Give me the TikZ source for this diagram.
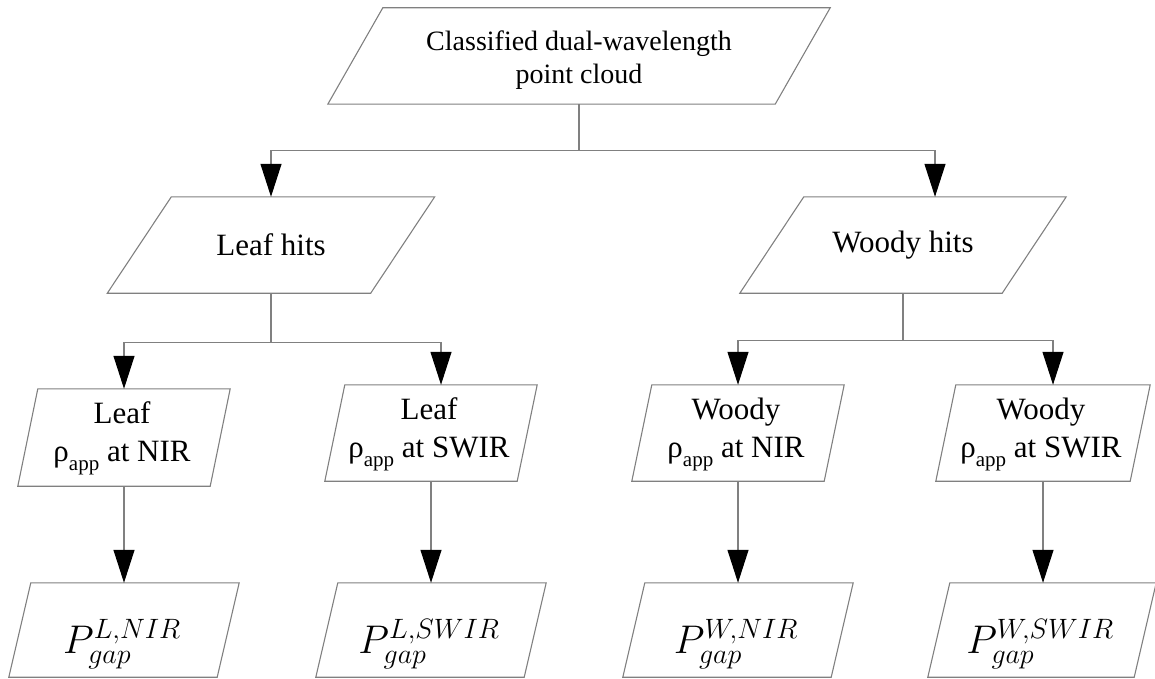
\RequirePackage{fix-cm}
\documentclass[tikz,border=0pt]{standalone}
\usepackage{fontspec}
\setmainfont{Liberation Serif}
\usetikzlibrary{arrows.meta,calc}
\definecolor{linegray}{RGB}{128,128,128}
\tikzset{
  box/.style={rectangle, draw=none, inner sep=0pt, minimum height=96pt},
  lbl/.style={align=center, inner sep=0pt, text=black},
  txt/.style={lbl, font=\fontsize{31}{38}\selectfont},
  mth/.style={lbl, font=\fontsize{40}{48}\selectfont},
  conn/.style={draw=linegray, line width=1.1pt},
  arr/.style={-{Triangle[length=33pt,width=21pt,color=black]}},
}
\newcommand{\paraDraw}[2]{%
  \draw[conn] ($(#1.north west)+(#2/2,0)$) -- ($(#1.north east)+(#2/2,0)$)
    -- ($(#1.south east)-(#2/2,0)$) -- ($(#1.south west)-(#2/2,0)$) -- cycle;}
\newcommand{\rhoapp}{ρ\raisebox{-9pt}{\fontsize{21}{21}\selectfont app}}
\begin{document}
\begin{tikzpicture}[x=1pt,y=-1pt]
\useasboundingbox (0,0) rectangle (1155,679);
% box frames
\node[box,minimum width=447pt] (top) at (579,56) {};
\node[box,minimum width=263pt] (leaf) at (271,245) {};
\node[box,minimum width=262pt] (woody) at (903,245) {};
\node[box,minimum width=192pt,minimum height=97pt] (lnir) at (124,437.5) {};
\node[box,minimum width=192pt] (lswir) at (431,433) {};
\node[box,minimum width=192pt] (wnir) at (738,433) {};
\node[box,minimum width=194pt] (wswir) at (1043,433) {};
\node[box,minimum width=208pt,minimum height=94pt] (plnir) at (124,630) {};
\node[box,minimum width=208pt,minimum height=94pt] (plswir) at (431,630) {};
\node[box,minimum width=208pt,minimum height=94pt] (pwnir) at (738,630) {};
\node[box,minimum width=206pt,minimum height=94pt] (pwswir) at (1042,630) {};
\paraDraw{top}{55}
\paraDraw{leaf}{64}
\paraDraw{woody}{64}
\paraDraw{lnir}{20}
\paraDraw{lswir}{20}
\paraDraw{wnir}{20}
\paraDraw{wswir}{20}
\paraDraw{plnir}{22}
\paraDraw{plswir}{22}
\paraDraw{pwnir}{22}
\paraDraw{pwswir}{22}
% texts
\node[lbl, font=\fontsize{28}{33}\selectfont] (topT) at (579,60) {Classified dual-wavelength\\point cloud};
\node[txt] (leafT) at (leaf) {Leaf hits};
\node[txt] (woodyT) at (woody) {Woody hits};
\node[txt] (lnirT) at ($(lnir)+(-2,1)$) {Leaf\\{\rhoapp} at NIR};
\node[txt] (lswirT) at ($(lswir)+(-2,1)$) {Leaf\\{\rhoapp} at SWIR};
\node[txt] (wnirT) at ($(wnir)+(-2,1)$) {Woody\\{\rhoapp} at NIR};
\node[txt] (wswirT) at ($(wswir)+(-2,1)$) {Woody\\{\rhoapp} at SWIR};
\node[mth] (plnirT) at ($(plnir)+(-2,14)$) {$P^{L,NIR}_{gap}$};
\node[mth] (plswirT) at ($(plswir)+(-2,14)$) {$P^{L,SWIR}_{gap}$};
\node[mth] (pwnirT) at ($(pwnir)+(-2,14)$) {$P^{W,NIR}_{gap}$};
\node[mth] (pwswirT) at ($(pwswir)+(-2,14)$) {$P^{W,SWIR}_{gap}$};
% connectors
\draw[conn] (top.south) -- ++(0,46) coordinate (j0);
\draw[conn,arr] (j0) -| (leaf.north);
\draw[conn,arr] (j0) -| ($(woody.north)+(32,0)$);
\draw[conn] (leaf.south) -- ++(0,49) coordinate (j1);
\draw[conn,arr] (j1) -| (lnir.north);
\draw[conn,arr] (j1) -| ($(lswir.north)+(10,0)$);
\draw[conn] (woody.south) -- ++(0,47) coordinate (j2);
\draw[conn,arr] (j2) -| (wnir.north);
\draw[conn,arr] (j2) -| ($(wswir.north)+(10,0)$);
\draw[conn,arr] (lnir.south) -- (plnir.north);
\draw[conn,arr] (lswir.south) -- (plswir.north);
\draw[conn,arr] (wnir.south) -- (pwnir.north);
\draw[conn,arr] (wswir.south) -- (wswir.south |- pwswir.north);
\end{tikzpicture}
\end{document}
